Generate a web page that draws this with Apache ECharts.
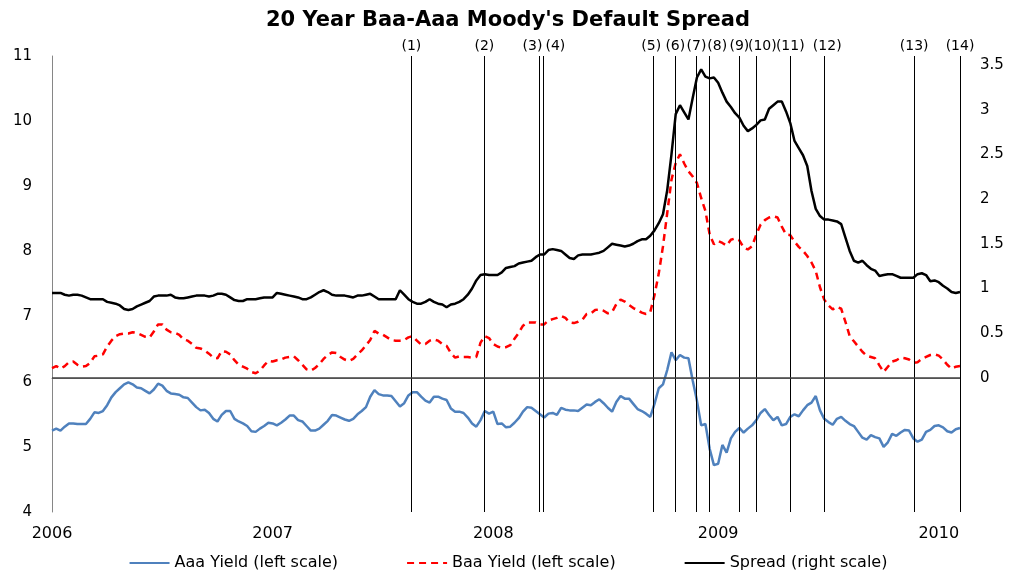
<!DOCTYPE html>
<html><head><meta charset="utf-8">
<script src="https://cdn.jsdelivr.net/npm/echarts@6/dist/echarts.min.js"></script>
<style>html,body{margin:0;padding:0;background:#fff}#c{width:1016px;height:578px}</style>
</head><body><div id="c"></div>
<script>
const titleText = "20 Year Baa-Aaa Moody's Default Spread";
const seriesNames = ['Aaa Yield (left scale)', 'Baa Yield (left scale)', 'Spread (right scale)'];
const yearLabels = ['2006', '2007', '2008', '2009', '2010'];
const yearWeeks = [0, 52, 104, 157, 209];
const eventLabels = ['(1)','(2)','(3)','(4)','(5)','(6)','(7)','(8)','(9)','(10)','(11)','(12)','(13)','(14)'];
const eventWeeks = [84.7, 101.9, 114.9, 115.8, 141.7, 146.9, 151.9, 154.9, 162, 166, 174, 182, 203.2, 214];

const aaa = [
5.25,5.28,5.25,5.31,5.36,5.36,5.35,5.35,5.35,5.43,
5.53,5.52,5.55,5.64,5.76,5.84,5.90,5.96,5.99,5.96,
5.91,5.90,5.86,5.82,5.88,5.97,5.94,5.86,5.82,5.81,
5.80,5.76,5.75,5.68,5.61,5.56,5.57,5.52,5.43,5.39,
5.49,5.55,5.55,5.43,5.39,5.36,5.32,5.24,5.23,5.28,
5.32,5.37,5.36,5.33,5.37,5.42,
5.48,5.48,5.41,5.39,5.32,5.25,5.25,5.28,5.34,5.40,
5.49,5.48,5.45,5.42,5.40,5.43,5.50,5.55,5.61,5.77,
5.87,5.81,5.79,5.79,5.78,5.70,5.62,5.67,5.79,5.84,
5.84,5.77,5.71,5.68,5.77,5.77,5.74,5.72,5.59,5.54,
5.54,5.52,5.45,5.36,5.31,5.41,5.55,5.51,5.54,5.35,
5.36,5.30,5.31,5.37,5.44,
5.54,5.61,5.60,5.55,5.50,5.45,5.51,5.52,5.49,5.60,
5.57,5.56,5.56,5.55,5.60,5.65,5.64,5.69,5.73,5.67,
5.60,5.54,5.69,5.78,5.74,5.74,5.66,5.58,5.55,5.51,
5.46,5.66,5.90,5.96,6.18,6.45,6.33,6.41,6.37,6.36,
6.02,5.71,5.33,5.35,4.97,4.72,4.74,5.03,4.91,5.13,
5.23,5.29,
5.22,5.28,5.33,5.41,5.52,5.58,5.49,5.41,5.46,5.33,
5.35,5.46,5.50,5.47,5.56,5.64,5.68,5.78,5.56,5.43,
5.38,5.34,5.43,5.46,5.40,5.35,5.32,5.23,5.14,5.11,
5.18,5.15,5.13,5.00,5.07,5.20,5.17,5.22,5.26,5.25,
5.13,5.08,5.11,5.23,5.26,5.32,5.33,5.30,5.24,5.22,
5.27,5.29
];

const baa = [
6.21,6.24,6.20,6.24,6.30,6.31,6.26,6.23,6.24,6.29,
6.39,6.40,6.42,6.54,6.63,6.70,6.73,6.74,6.74,6.76,
6.75,6.72,6.69,6.68,6.77,6.88,6.88,6.80,6.76,6.75,
6.72,6.65,6.63,6.58,6.52,6.51,6.48,6.43,6.37,6.36,
6.47,6.46,6.42,6.33,6.26,6.23,6.20,6.15,6.13,6.17,
6.25,6.32,6.31,6.33,6.34,6.37,
6.38,6.39,6.33,6.26,6.19,6.17,6.21,6.27,6.35,6.41,
6.45,6.44,6.38,6.34,6.32,6.35,6.42,6.48,6.56,6.64,
6.78,6.74,6.72,6.68,6.64,6.63,6.63,6.64,6.68,6.70,
6.63,6.57,6.58,6.63,6.65,6.63,6.58,6.55,6.44,6.37,
6.39,6.38,6.38,6.37,6.38,6.60,6.70,6.67,6.58,6.54,
6.52,6.53,6.56,6.66,6.75,
6.86,6.91,6.91,6.91,6.88,6.88,6.94,6.96,6.98,7.01,
6.98,6.91,6.90,6.92,6.95,7.04,7.05,7.10,7.11,7.09,
7.05,7.07,7.19,7.26,7.23,7.18,7.13,7.10,7.06,7.04,
7.07,7.33,7.66,8.08,8.59,9.10,9.36,9.49,9.35,9.23,
9.15,9.05,8.82,8.62,8.26,8.11,8.16,8.13,8.09,8.18,
8.20,8.17,
8.06,8.03,8.08,8.26,8.41,8.48,8.52,8.54,8.52,8.38,
8.26,8.25,8.15,8.07,8.01,7.93,7.83,7.70,7.45,7.26,
7.17,7.11,7.15,7.12,6.92,6.70,6.62,6.54,6.46,6.40,
6.38,6.36,6.25,6.15,6.23,6.31,6.33,6.37,6.36,6.34,
6.29,6.30,6.35,6.38,6.41,6.42,6.40,6.34,6.26,6.20,
6.23,6.24
];

const spread = [
0.95,0.95,0.95,0.93,0.92,0.93,0.93,0.92,0.90,0.88,
0.88,0.88,0.88,0.85,0.84,0.83,0.81,0.77,0.76,0.77,
0.80,0.82,0.84,0.86,0.91,0.92,0.92,0.92,0.93,0.90,
0.89,0.89,0.90,0.91,0.92,0.92,0.92,0.91,0.92,0.94,
0.94,0.93,0.90,0.87,0.86,0.86,0.88,0.88,0.88,0.89,
0.90,0.90,0.90,0.95,0.94,0.93,
0.92,0.91,0.90,0.88,0.88,0.90,0.93,0.96,0.98,0.96,
0.93,0.92,0.92,0.92,0.91,0.90,0.92,0.92,0.93,0.94,
0.91,0.88,0.88,0.88,0.88,0.88,0.98,0.93,0.88,0.85,
0.83,0.83,0.85,0.88,0.85,0.83,0.82,0.79,0.82,0.83,
0.85,0.88,0.93,1.00,1.09,1.15,1.16,1.15,1.15,1.15,
1.18,1.23,1.24,1.25,1.28,
1.29,1.30,1.31,1.35,1.38,1.38,1.43,1.44,1.43,1.42,
1.38,1.34,1.33,1.37,1.38,1.38,1.38,1.39,1.40,1.42,
1.46,1.50,1.49,1.48,1.47,1.48,1.50,1.53,1.55,1.55,
1.59,1.65,1.73,1.83,2.10,2.50,2.95,3.05,2.97,2.89,
3.13,3.36,3.45,3.37,3.35,3.36,3.30,3.19,3.09,3.03,
2.96,2.91,
2.82,2.76,2.79,2.83,2.88,2.89,3.01,3.05,3.09,3.09,
2.98,2.85,2.65,2.57,2.49,2.37,2.09,1.89,1.81,1.77,
1.77,1.76,1.75,1.72,1.57,1.42,1.31,1.29,1.31,1.26,
1.22,1.20,1.14,1.15,1.16,1.16,1.14,1.12,1.12,1.12,
1.12,1.16,1.17,1.15,1.08,1.09,1.07,1.03,1.00,0.96,
0.95,0.96
];

const FONT = 'DejaVu Sans';
const lastWeek = aaa.length - 1;
const toPairs = arr => arr.map((v, i) => [i, v]);
// horizontal nudges for crowded event labels (px)
const labelNudge = {2: -7, 3: 12, 4: -2, 7: 8, 9: 6, 11: 3};

const eventMarks = eventWeeks.map((w, k) => {
  const n = labelNudge[k] || 0;
  return {
    xAxis: w,
    label: {
      formatter: eventLabels[k],
      padding: n >= 0 ? [0, 0, 0, 2 * n] : [0, -2 * n, 0, 0]
    }
  };
});

const chart = echarts.init(document.getElementById('c'), null, {renderer: 'canvas'});
chart.setOption({
  animation: false,
  backgroundColor: '#ffffff',
  textStyle: {fontFamily: FONT},
  title: {
    text: titleText, left: 'center', top: 5,
    textStyle: {fontFamily: FONT, fontSize: 21, fontWeight: 'bold', color: '#000'}
  },
  grid: {left: 52, right: 56, top: 56, bottom: 66, containLabel: false},
  legend: {
    bottom: 2, left: 'center', itemWidth: 40, itemHeight: 14, itemGap: 68,
    itemStyle: {opacity: 0},
    lineStyle: {width: 2},
    textStyle: {fontFamily: FONT, fontSize: 16, color: '#000'},
    data: seriesNames
  },
  xAxis: {
    type: 'value', min: 0, max: lastWeek,
    axisLine: {show: true, lineStyle: {color: '#868686', width: 1}},
    axisTick: {show: false},
    splitLine: {show: false},
    axisLabel: {
      customValues: yearWeeks,
      formatter: v => yearLabels[yearWeeks.indexOf(v)] || '',
      fontFamily: FONT, fontSize: 16, color: '#000', margin: 14
    }
  },
  yAxis: [
    {
      type: 'value', min: 4, max: 11, interval: 1, position: 'left',
      axisLine: {show: true, lineStyle: {color: '#868686', width: 1}},
      axisTick: {show: false}, splitLine: {show: false},
      axisLabel: {fontFamily: FONT, fontSize: 15, color: '#000', margin: 20}
    },
    {
      type: 'value', min: -1.5, max: 3.6, interval: 0.5, position: 'right',
      axisLine: {show: false}, axisTick: {show: false}, splitLine: {show: false},
      axisLabel: {
        fontFamily: FONT, fontSize: 15, color: '#000', margin: 20,
        formatter: v => (v < -1e-9 || v > 3.55) ? '' : String(Math.round(v * 10) / 10)
      }
    }
  ],
  series: [
    {
      name: seriesNames[0], type: 'line', yAxisIndex: 0, data: toPairs(aaa),
      symbol: 'none', showSymbol: false, color: '#4F81BD',
      lineStyle: {color: '#4F81BD', width: 2.5}, z: 3,
      markLine: {
        silent: true, symbol: 'none', animation: false,
        lineStyle: {color: '#000', width: 1, type: 'solid'},
        label: {show: true, position: 'end', distance: 3, fontFamily: FONT, fontSize: 14, color: '#000'},
        data: eventMarks
      }
    },
    {
      name: seriesNames[1], type: 'line', yAxisIndex: 0, data: toPairs(baa),
      symbol: 'none', showSymbol: false, color: '#FF0000',
      lineStyle: {color: '#FF0000', width: 2.5, type: [7, 5]}, z: 4
    },
    {
      name: seriesNames[2], type: 'line', yAxisIndex: 1, data: toPairs(spread),
      symbol: 'none', showSymbol: false, color: '#000000',
      lineStyle: {color: '#000000', width: 2.5}, z: 5,
      markLine: {
        silent: true, symbol: 'none', animation: false,
        lineStyle: {color: '#404040', width: 1.5, type: 'solid'},
        label: {show: false},
        data: [{yAxis: 0}]
      }
    }
  ]
});
</script>
</body></html>
